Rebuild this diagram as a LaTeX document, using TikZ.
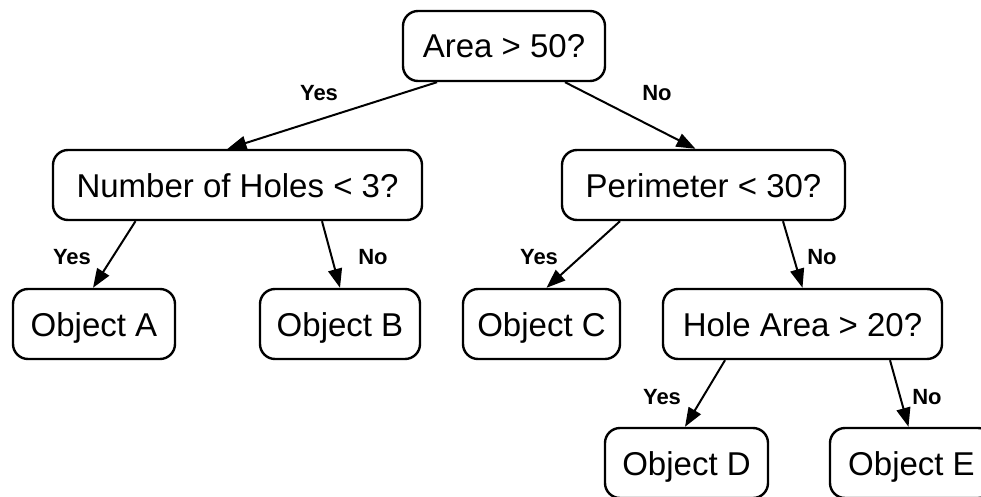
\documentclass[tikz,border=0pt]{standalone}
\usepackage{fontspec}
\setmainfont{Liberation Sans}
\usetikzlibrary{arrows.meta}

\tikzset{
  box/.style={draw, line width=2.4pt, rounded corners=15pt, inner sep=0pt,
    minimum height=70pt, text height=24pt, text depth=0pt,
    font=\fontsize{33}{36}\selectfont},
  arr/.style={line width=2pt, -{Triangle[length=19pt,width=14pt]}},
  lbl/.style={font=\fontsize{22}{24}\selectfont\bfseries, inner sep=0pt}
}

\begin{document}
\begin{tikzpicture}[x=1pt,y=-1pt]
  \clip (0,0) rectangle (981,497);
  \fill[white] (0,0) rectangle (981,497);

  % decision nodes
  \node[box, minimum width=202pt] (root) at (504,46) {Area > 50?};
  \node[box, minimum width=369pt] (holes) at (237.5,185) {Number of Holes < 3?};
  \node[box, minimum width=283pt] (perim) at (703.5,185) {Perimeter < 30?};
  \node[box, minimum width=279pt] (hole) at (802.5,324) {Hole Area > 20?};

  % leaves
  \node[box, minimum width=162pt] (objA) at (94,324) {Object A};
  \node[box, minimum width=160pt] (objB) at (340,324) {Object B};
  \node[box, minimum width=157pt] (objC) at (541.5,324) {Object C};
  \node[box, minimum width=163pt] (objD) at (686.5,463) {Object D};
  \node[box, minimum width=163pt] (objE) at (911.5,463) {Object E};

  % branches
  \draw[arr] ([xshift=-67pt]root.south) -- ([xshift=-10pt]holes.north);
  \draw[arr] ([xshift=61pt]root.south) -- ([xshift=-8pt]perim.north);
  \draw[arr] ([xshift=-102pt]holes.south) -- ([xshift=-1pt]objA.north);
  \draw[arr] ([xshift=84.5pt]holes.south) -- (objB.north);
  \draw[arr] ([xshift=-83.5pt]perim.south) -- ([xshift=5pt]objC.north);
  \draw[arr] ([xshift=79.5pt]perim.south) -- (hole.north);
  \draw[arr] ([xshift=-77.5pt]hole.south) -- ([xshift=-1.5pt]objD.north);
  \draw[arr] ([xshift=87.5pt]hole.south) -- ([xshift=-3pt]objE.north);

  % branch labels
  \node[lbl] (y1) at (319,93) {Yes};
  \node[lbl] (n1) at (657,93) {No};
  \node[lbl] (y2) at (72,257) {Yes};
  \node[lbl] (n2) at (373,257) {No};
  \node[lbl] (y3) at (539,257) {Yes};
  \node[lbl] (n3) at (822,257) {No};
  \node[lbl] (y4) at (662,397) {Yes};
  \node[lbl] (n4) at (927,397) {No};
\end{tikzpicture}
\end{document}
